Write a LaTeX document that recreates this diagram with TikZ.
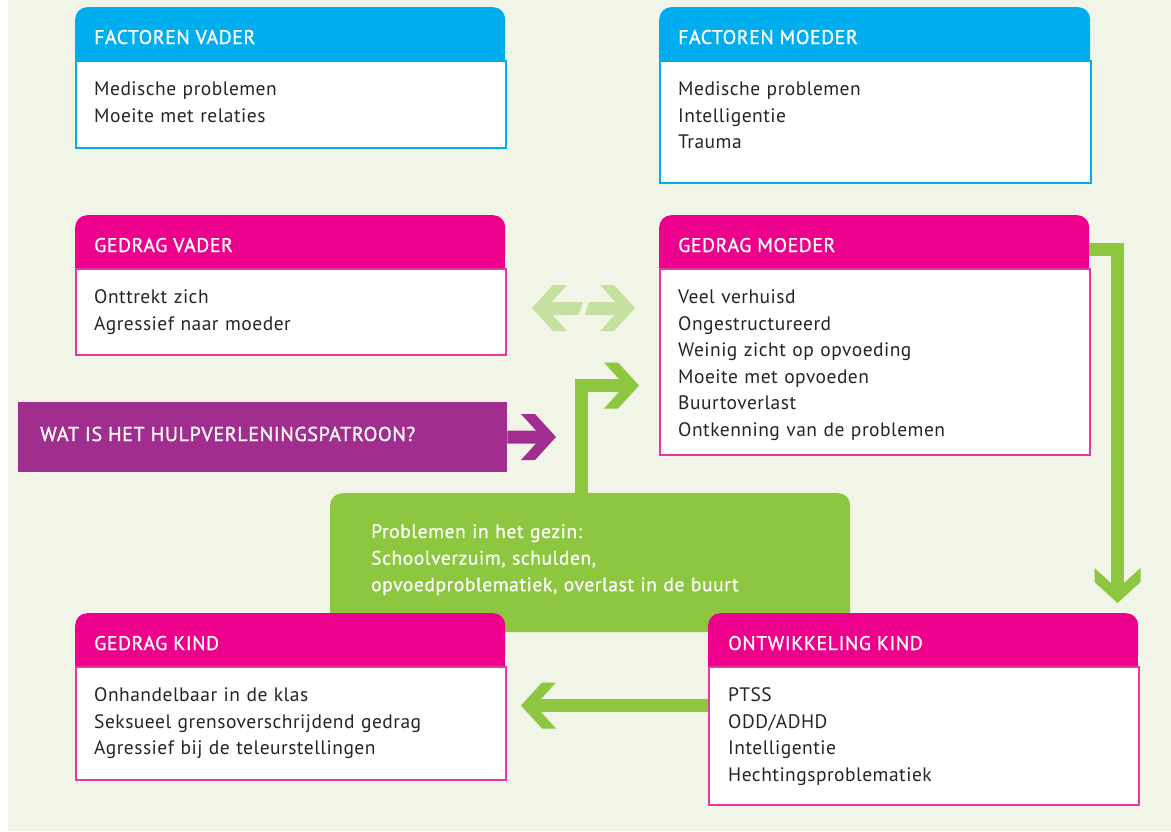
\documentclass[tikz,border=0pt]{standalone}
\usepackage{fontspec}
\setmainfont{PT Sans}
\newfontfamily\bodyf[LetterSpace=2.5]{PT Sans}
\newfontfamily\ttlf[LetterSpace=3,FakeBold=1]{PT Sans}
\newfontfamily\grnf[LetterSpace=3,FakeBold=0.6]{PT Sans}
\usetikzlibrary{calc}
\definecolor{bgc}{RGB}{240,245,232}
\definecolor{cya}{RGB}{0,174,239}
\definecolor{mag}{RGB}{236,0,140}
\definecolor{grn}{RGB}{141,198,63}
\definecolor{lgrn}{RGB}{197,224,160}
\definecolor{pur}{RGB}{161,45,142}
\definecolor{txt}{RGB}{40,36,38}
\tikzset{
  hdr/.style={rounded corners=12pt, anchor=north west, inner sep=0pt, minimum width=430pt, minimum height=53pt},
  bodybox/.style={anchor=north west, inner sep=0pt, minimum width=430pt, fill=white, line width=1.5pt},
  ttl/.style={anchor=base west, inner sep=0pt, text=white, font=\ttlf\fontsize{19.8}{24}\selectfont},
  bodytxt/.style={anchor=base west, inner sep=0pt, text width=400pt, align=left, text=txt, font=\bodyf\fontsize{19.5}{26.6}\selectfont},
  conn/.style={line width=13pt, line join=miter},
  chev/.pic={\fill (0,0) -- (-21,23) -- (-35,23) -- (-20,6.5) -- (-20,-6.5) -- (-35,-23) -- (-21,-23) -- cycle;}
}
\begin{document}
\begin{tikzpicture}[x=1pt,y=-1pt]
\useasboundingbox (0,0) rectangle (1171,831);
\fill[white] (0,0) rectangle (1171,831);
\fill[bgc] (8,0) rectangle (1171,831);

% green family-problems box
\node[fill=grn, rounded corners=12pt, anchor=north west, inner sep=0pt, minimum width=520pt, minimum height=139pt] (gz) at (330,493) {};
\node[anchor=base west, inner sep=0pt, text width=480pt, align=left, text=white, font=\grnf\fontsize{19.5}{26.6}\selectfont] (gzt) at (371,538) {Problemen in het gezin:\\Schoolverzuim, schulden,\\opvoedproblematiek, overlast in de buurt};

% FACTOREN VADER
\node[hdr, fill=cya] (fvh) at (75,7) {};
\fill[cya] (fvh.west) rectangle (fvh.south east);
\node[bodybox, draw=cya, minimum height=87pt] (fv) at (fvh.south west) {};
\node[ttl] (fvt) at ($(fvh.north west)+(19,37)$) {FACTOREN VADER};
\node[bodytxt] (fvl) at ($(fvh.south west)+(19,35)$) {Medische problemen\\Moeite met relaties};

% FACTOREN MOEDER
\node[hdr, fill=cya, minimum width=431pt] (fmh) at (659,7) {};
\fill[cya] (fmh.west) rectangle (fmh.south east);
\node[bodybox, draw=cya, minimum width=431pt, minimum height=122pt] (fm) at (fmh.south west) {};
\node[ttl] (fmt) at ($(fmh.north west)+(19,37)$) {FACTOREN MOEDER};
\node[bodytxt] (fml) at ($(fmh.south west)+(19,35)$) {Medische problemen\\Intelligentie\\Trauma};

% GEDRAG VADER
\node[hdr, fill=mag] (gvh) at (75,215) {};
\fill[mag] (gvh.west) rectangle (gvh.south east);
\node[bodybox, draw=mag!80!white, minimum height=86pt] (gv) at (gvh.south west) {};
\node[ttl] (gvt) at ($(gvh.north west)+(19,37)$) {GEDRAG VADER};
\node[bodytxt] (gvl) at ($(gvh.south west)+(19,35)$) {Onttrekt zich\\Agressief naar moeder};

% GEDRAG MOEDER
\node[hdr, fill=mag] (gmh) at (659,215) {};
\fill[mag] (gmh.west) rectangle (gmh.south east);
\node[bodybox, draw=mag!80!white, minimum height=186pt] (gm) at (gmh.south west) {};
\node[ttl] (gmt) at ($(gmh.north west)+(19,37)$) {GEDRAG MOEDER};
\node[bodytxt] (gml) at ($(gmh.south west)+(19,35)$) {Veel verhuisd\\Ongestructureerd\\Weinig zicht op opvoeding\\Moeite met opvoeden\\Buurtoverlast\\Ontkenning van de problemen};

% GEDRAG KIND
\node[hdr, fill=mag] (gkh) at (75,613) {};
\fill[mag] (gkh.west) rectangle (gkh.south east);
\node[bodybox, draw=mag!80!white, minimum height=113pt] (gk) at (gkh.south west) {};
\node[ttl] (gkt) at ($(gkh.north west)+(19,37)$) {GEDRAG KIND};
\node[bodytxt] (gkl) at ($(gkh.south west)+(19,35)$) {Onhandelbaar in de klas\\Seksueel grensoverschrijdend gedrag\\Agressief bij de teleurstellingen};

% ONTWIKKELING KIND
\node[hdr, fill=mag] (okh) at (708,613) {};
\fill[mag] (okh.west) rectangle (okh.south east);
\node[bodybox, draw=mag!80!white, minimum height=138pt] (ok) at (okh.south west) {};
\node[ttl] (okt) at ($(okh.north west)+(20,37)$) {ONTWIKKELING KIND};
\node[bodytxt] (okl) at ($(okh.south west)+(20,35)$) {PTSS\\ODD/ADHD\\Intelligentie\\Hechtingsproblematiek};

% purple banner
\node[fill=pur, anchor=north west, inner sep=0pt, minimum width=489pt, minimum height=70pt] (ban) at (18,402) {};
\node[anchor=base west, inner sep=0pt, text=white, font=\ttlf\fontsize{20.1}{24}\selectfont] (bant) at (40,441) {WAT IS HET HULPVERLENINGSPATROON?};

% arrow tips (free ends)
\coordinate (tipdl) at (532,308);
\coordinate (tipdr) at (635,308);
\coordinate (tipgm) at (639,385.5);
\coordinate (tipban) at (556,437);
\coordinate (tipok) at (1117.5,603);
\coordinate (tipgk) at (521,705.5);

% double arrow between the parents
\draw[conn, lgrn, shorten <=20pt, shorten >=20pt] (tipdl) -- (tipdr);
\pic[lgrn, rotate=180] at (tipdl) {chev};
\pic[lgrn] at (tipdr) {chev};
\draw[bgc, line width=5.5pt] (587.75,297) -- (580.25,319);

% green box -> gedrag moeder
\draw[conn, grn, shorten >=20pt] ([xshift=-8.5pt]gz.north) |- (tipgm);
\pic[grn] at (tipgm) {chev};

% banner arrow
\draw[conn, pur, shorten >=20pt] (ban.east) -- (tipban);
\pic[pur] at (tipban) {chev};

% gedrag moeder -> ontwikkeling kind
\draw[conn, grn, shorten >=20pt] ([yshift=-8pt]gmh.east) -| (tipok);
\pic[grn, rotate=-90] at (tipok) {chev};

% ontwikkeling kind -> gedrag kind
\draw[conn, grn, shorten >=20pt] (ok.west |- tipgk) -- (tipgk);
\pic[grn, rotate=180] at (tipgk) {chev};
\end{tikzpicture}
\end{document}
